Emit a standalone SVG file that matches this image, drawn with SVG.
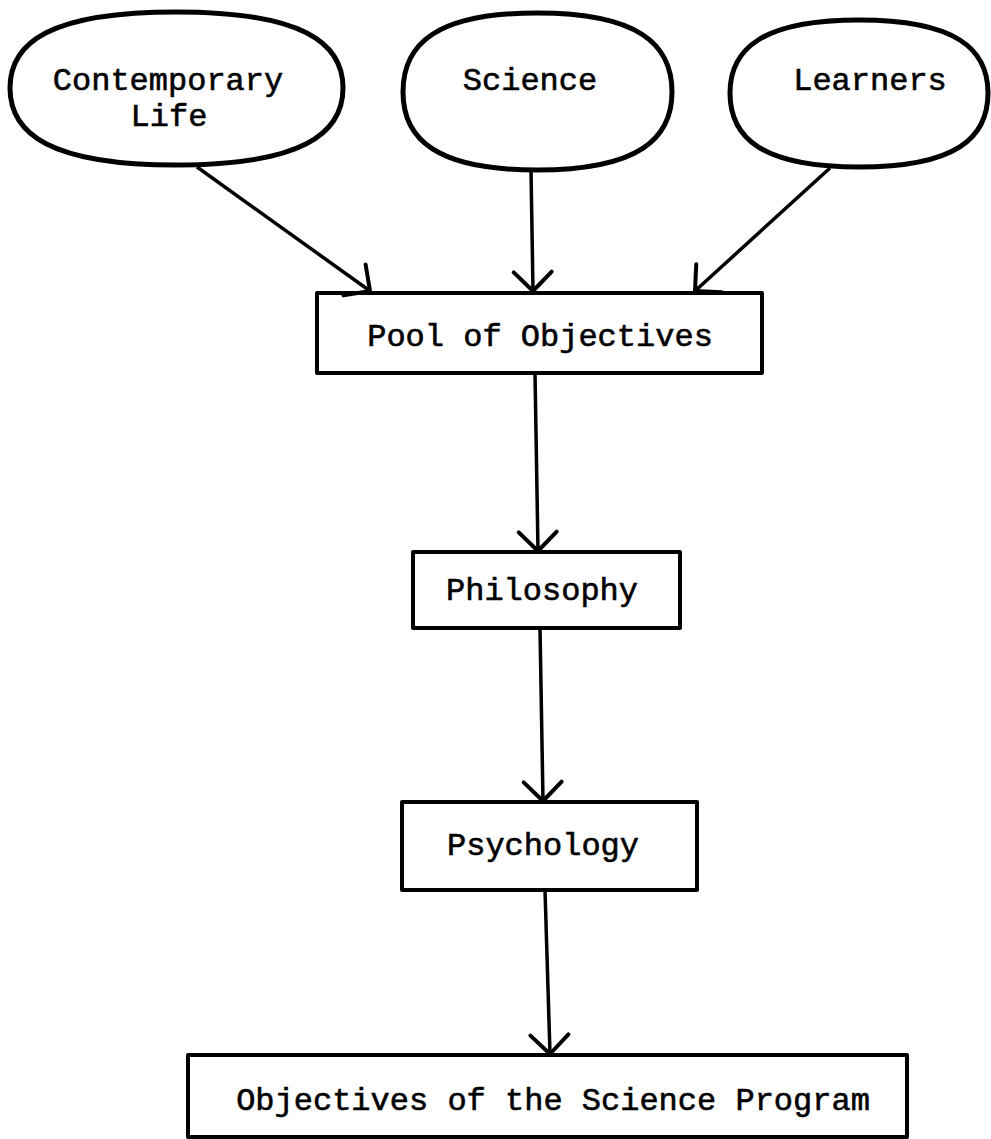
<svg xmlns="http://www.w3.org/2000/svg" width="991" height="1139" viewBox="0 0 991 1139">
<style>
.blob{fill:none;stroke:#000;stroke-width:5;stroke-linejoin:round}
.box{fill:none;stroke:#000;stroke-width:4;stroke-linejoin:round}
.t{font-family:"Liberation Mono","DejaVu Sans Mono",monospace;font-size:32px;fill:#000;stroke:#000;stroke-width:0.6;text-anchor:middle}
.c{fill:none;stroke:#000;stroke-width:3.5;marker-end:url(#v)}
</style>
<defs>
<marker id="v" viewBox="-24 -24 28 48" refX="0" refY="0" markerWidth="28" markerHeight="48" markerUnits="userSpaceOnUse" orient="auto">
<path d="M-19,-19 L0,0 L-19,19" fill="none" stroke="#000" stroke-width="4" stroke-linecap="round" stroke-linejoin="round"/>
</marker>
</defs>
<rect width="991" height="1139" fill="#fff"/>
<g id="contemporary-life">
<path class="blob" d="M176,12 C301,12 343,42 343,88 C343,134 301,165 176,165 C51,165 10,134 10,88 C10,42 51,12 176,12 Z"/>
<text class="t" x="168" y="90">Contemporary</text>
<text class="t" x="169" y="126">Life</text>
</g>
<g id="science">
<path class="blob" d="M537,13 C638,13 672,44 672,92 C672,139 638,170 537,170 C436,170 403,139 403,92 C403,44 436,13 537,13 Z"/>
<text class="t" x="530" y="90">Science</text>
</g>
<g id="learners">
<path class="blob" d="M859,20 C956,20 988,49 988,93 C988,138 956,167 859,167 C762,167 730,138 730,93 C730,49 762,20 859,20 Z"/>
<text class="t" x="870" y="90">Learners</text>
</g>
<g id="pool">
<rect class="box" x="317" y="293" width="445" height="80"/>
<text class="t" x="540" y="346">Pool of Objectives</text>
</g>
<g id="philosophy">
<rect class="box" x="413" y="552" width="267" height="76"/>
<text class="t" x="542" y="600">Philosophy</text>
</g>
<g id="psychology">
<rect class="box" x="402" y="802" width="295" height="88"/>
<text class="t" x="543" y="855">Psychology</text>
</g>
<g id="objectives">
<rect class="box" x="188" y="1055" width="719" height="82"/>
<text class="t" x="553" y="1110">Objectives of the Science Program</text>
</g>
<g id="connectors">
<line class="c" x1="197" y1="167" x2="370" y2="291"/>
<line class="c" x1="531" y1="170" x2="533" y2="291"/>
<line class="c" x1="830" y1="168" x2="695" y2="291"/>
<line class="c" x1="535" y1="373" x2="538" y2="551"/>
<line class="c" x1="540" y1="628" x2="543" y2="801"/>
<line class="c" x1="545" y1="890" x2="550" y2="1054"/>
</g>
</svg>
